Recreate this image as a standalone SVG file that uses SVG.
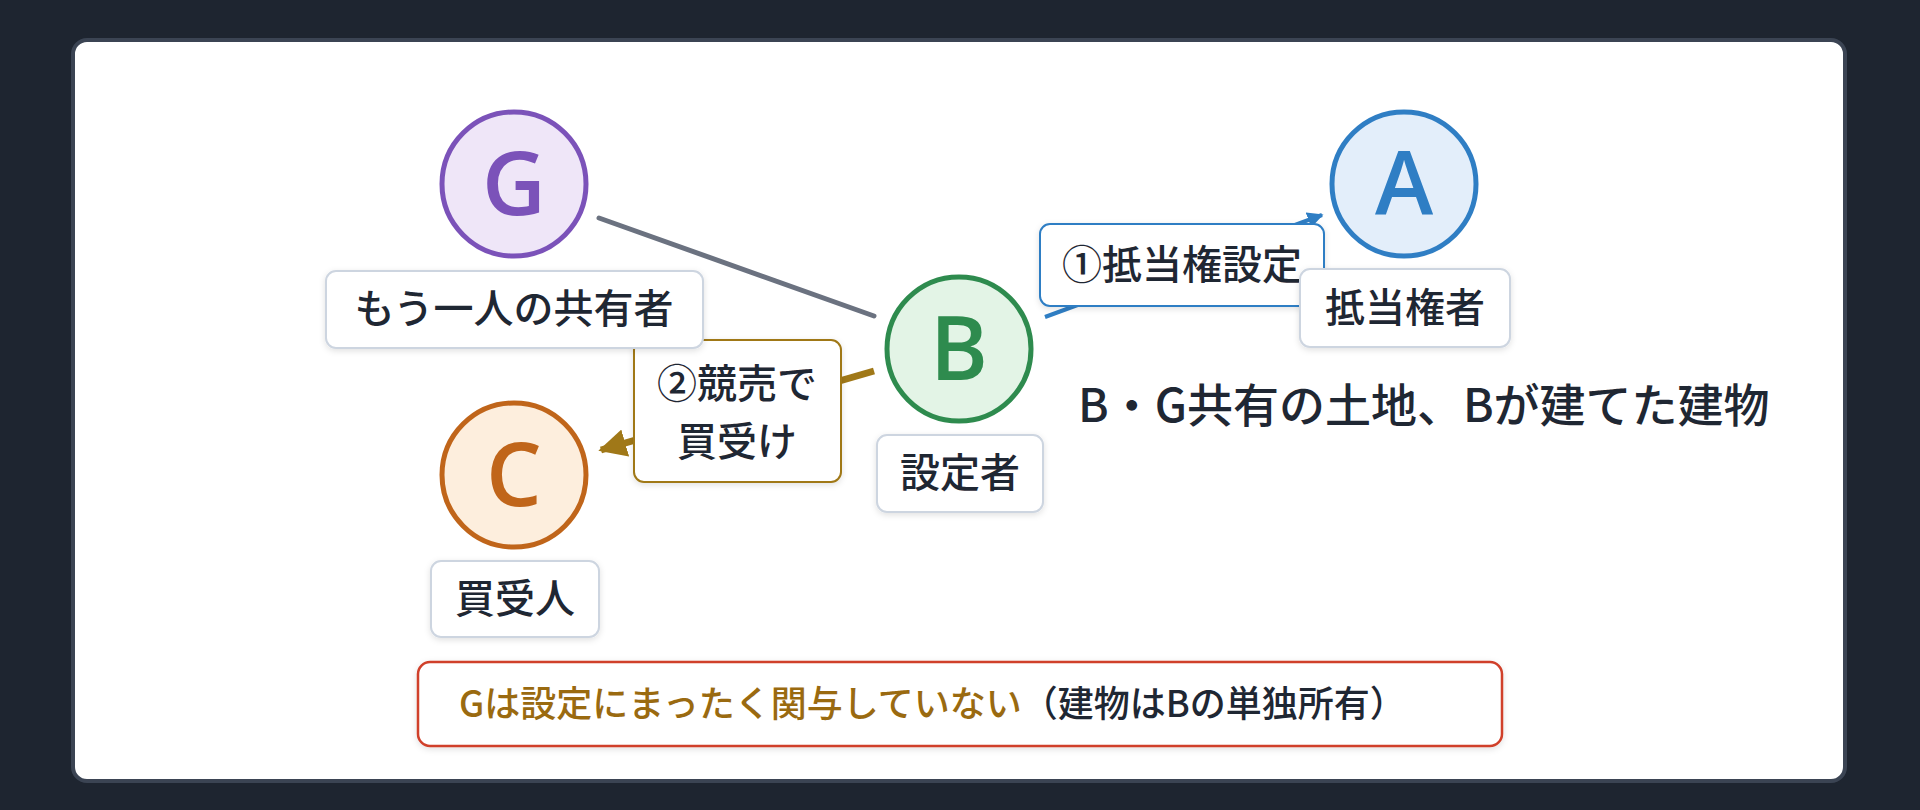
<svg xmlns="http://www.w3.org/2000/svg" width="1920" height="810" viewBox="0 0 1920 810">
<style>
text{font-family:"Noto Sans CJK JP","Noto Sans",sans-serif;fill:#1f2733;font-weight:500}
.lbl{fill:#fff;stroke:#cdd5e0;stroke-width:2}
.lt{font-size:40px;text-anchor:middle}
.big{font-size:88px;text-anchor:middle;font-family:"Open Sans","Noto Sans",sans-serif;font-weight:600}
</style>
<defs>
<filter id="sh" x="-10%" y="-10%" width="120%" height="130%"><feDropShadow dx="0" dy="2" stdDeviation="3" flood-color="#000" flood-opacity="0.12"/></filter>
<marker id="ab" viewBox="0 0 10 10" refX="9" refY="5" markerWidth="4" markerHeight="4" orient="auto"><path d="M0,0L10,5L0,10z" fill="#2f7ec4"/></marker>
<marker id="ao" viewBox="0 0 10 10" refX="9" refY="5" markerWidth="4" markerHeight="4" orient="auto"><path d="M0,0L10,5L0,10z" fill="#a07818"/></marker>
</defs>
<rect width="1920" height="810" fill="#1e2530"/>
<rect x="73" y="40" width="1772" height="741" rx="14" fill="#fff" stroke="#3b4453" stroke-width="4"/>
<g id="connectors">
<line x1="599" y1="218" x2="874" y2="316" stroke="#6b7280" stroke-width="5" stroke-linecap="round"/>
<line x1="1045" y1="317" x2="1322" y2="215" stroke="#2f7ec4" stroke-width="4" marker-end="url(#ab)"/>
<line x1="874" y1="371" x2="601" y2="450" stroke="#a07818" stroke-width="7" marker-end="url(#ao)"/>
<g id="edge-ab"><rect x="1040" y="224" width="284" height="82" rx="10" fill="#fff" stroke="#2f7ec4" stroke-width="2" filter="url(#sh)"/><text class="lt" x="1182" y="279">①抵当権設定</text></g>
<g id="edge-bc"><rect x="634" y="340" width="207" height="142" rx="10" fill="#fff" stroke="#a07818" stroke-width="2" filter="url(#sh)"/><text class="lt" x="737" y="398">②競売で</text><text class="lt" x="737" y="456">買受け</text></g>
</g>
<g id="G"><circle cx="514" cy="184" r="72" fill="#efe6f8" stroke="#7b52b9" stroke-width="5"/><text class="big" x="514" y="215" style="fill:#7b52b9">G</text>
<rect class="lbl" x="326" y="271" width="377" height="77" rx="10" filter="url(#sh)"/><text class="lt" x="514" y="323">もう一人の共有者</text></g>
<g id="B"><circle cx="959" cy="349" r="72" fill="#e3f4e6" stroke="#2e8b4e" stroke-width="5"/><text class="big" x="959" y="380" style="fill:#2e8b4e">B</text>
<rect class="lbl" x="877" y="435" width="166" height="77" rx="10" filter="url(#sh)"/><text class="lt" x="960" y="487">設定者</text></g>
<g id="A"><circle cx="1404" cy="184" r="72" fill="#e3eefa" stroke="#2f7ec4" stroke-width="5"/><text class="big" x="1404" y="215" style="fill:#2f7ec4">A</text>
<rect class="lbl" x="1300" y="269" width="210" height="78" rx="10" filter="url(#sh)"/><text class="lt" x="1405" y="322">抵当権者</text></g>
<g id="C"><circle cx="514" cy="475" r="72" fill="#fdeedd" stroke="#c0651a" stroke-width="5"/><text class="big" x="514" y="506" style="fill:#c0651a">C</text>
<rect class="lbl" x="431" y="561" width="168" height="76" rx="10" filter="url(#sh)"/><text class="lt" x="515" y="613">買受人</text></g>
<text x="1078" y="422" font-size="46">B・G共有の土地、Bが建てた建物</text>
<g id="note"><rect x="418" y="662" width="1084" height="84" rx="12" fill="#fff" stroke="#d0402a" stroke-width="2.5" filter="url(#sh)"/>
<text x="459" y="717" font-size="36"><tspan style="fill:#9a6a10">Gは設定にまったく関与していない</tspan>（建物はBの単独所有）</text></g>
</svg>
